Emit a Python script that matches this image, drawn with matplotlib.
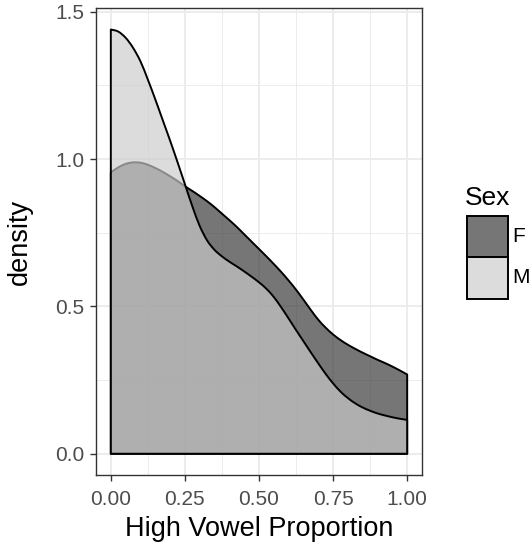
import numpy as np
import matplotlib
matplotlib.use("Agg")
import matplotlib.pyplot as plt
from matplotlib.patches import PathPatch, Rectangle
from matplotlib.path import Path

plt.rcParams['font.family'] = ['Liberation Sans', 'DejaVu Sans']

# ---- data ----
x_grid = [0.000, 0.025, 0.050, 0.075, 0.100, 0.125, 0.150, 0.175, 0.200, 0.225,
          0.250, 0.275, 0.300, 0.325, 0.350, 0.375, 0.400, 0.425, 0.450, 0.475,
          0.500, 0.525, 0.550, 0.575, 0.600, 0.625, 0.650, 0.675, 0.700, 0.725,
          0.750, 0.775, 0.800, 0.825, 0.850, 0.875, 0.900, 0.925, 0.950, 0.975, 1.000]

density_F = [0.955, 0.972, 0.984, 0.989, 0.988, 0.981, 0.970, 0.957, 0.942, 0.926,
             0.908, 0.892, 0.875, 0.857, 0.837, 0.815, 0.793, 0.770, 0.745, 0.720,
             0.695, 0.670, 0.644, 0.617, 0.588, 0.557, 0.523, 0.488, 0.455, 0.428,
             0.405, 0.386, 0.370, 0.356, 0.343, 0.331, 0.319, 0.308, 0.296, 0.283, 0.269]

density_M = [1.440, 1.433, 1.412, 1.378, 1.332, 1.270, 1.203, 1.133, 1.063, 0.990,
             0.915, 0.840, 0.773, 0.724, 0.692, 0.670, 0.652, 0.636, 0.619, 0.601,
             0.582, 0.560, 0.532, 0.497, 0.459, 0.420, 0.382, 0.344, 0.307, 0.271,
             0.239, 0.211, 0.189, 0.171, 0.157, 0.146, 0.137, 0.130, 0.124, 0.119, 0.115]

groups = ['F', 'M']
group_colors = {'F': '#333333', 'M': '#CCCCCC'}
fill_alpha = 0.67

x_ticks = [0.0, 0.25, 0.5, 0.75, 1.0]
x_ticklabels = ['0.00', '0.25', '0.50', '0.75', '1.00']
y_ticks = [0.0, 0.5, 1.0, 1.5]
y_ticklabels = ['0.0', '0.5', '1.0', '1.5']


def smooth_area_path(xs, ys):
    """Closed area path; the top edge passes through the data points as
    Bezier segments (Catmull-Rom tangents), drawn by matplotlib's Path."""
    P = np.column_stack([xs, ys]).astype(float)
    n = len(P)
    verts = [(P[0, 0], 0.0), tuple(P[0])]
    codes = [Path.MOVETO, Path.LINETO]
    for i in range(n - 1):
        p0 = P[i - 1] if i > 0 else P[i]
        p1, p2 = P[i], P[i + 1]
        p3 = P[i + 2] if i + 2 < n else P[i + 1]
        c1 = p1 + (p2 - p0) / 6.0
        c2 = p2 - (p3 - p1) / 6.0
        verts += [tuple(c1), tuple(c2), tuple(p2)]
        codes += [Path.CURVE4] * 3
    verts += [(P[-1, 0], 0.0), (P[0, 0], 0.0)]
    codes += [Path.LINETO, Path.CLOSEPOLY]
    return Path(verts, codes)


# ---- figure ----
W, H = 532, 548
fig = plt.figure(figsize=(W / 100, H / 100), dpi=100)
ax = fig.add_axes([96 / W, (H - 475) / H, (422 - 96) / W, (475 - 8.3) / H])

series = {'F': density_F, 'M': density_M}
for g in groups:
    r, gg, b = matplotlib.colors.to_rgb(group_colors[g])
    patch = PathPatch(smooth_area_path(x_grid, series[g]),
                      facecolor=(r, gg, b, fill_alpha), edgecolor='black',
                      linewidth=1.4, joinstyle='round', zorder=2)
    ax.add_patch(patch)

ax.set_xlim(-0.05, 1.05)
ax.set_ylim(-0.072, 1.512)

ax.set_xticks(x_ticks)
ax.set_xticklabels(x_ticklabels)
ax.set_yticks(y_ticks)
ax.set_yticklabels(y_ticklabels)
ax.set_xticks([0.125, 0.375, 0.625, 0.875], minor=True)
ax.set_yticks([0.25, 0.75, 1.25], minor=True)

ax.grid(which='major', color='#EBEBEB', linewidth=1.3, zorder=0)
ax.grid(which='minor', color='#EBEBEB', linewidth=0.65, zorder=0)
ax.set_axisbelow(True)

ax.tick_params(which='major', length=4.3, width=1.0, color='#333333',
               labelsize=15, labelcolor='#4D4D4D')
ax.tick_params(axis='x', which='major', pad=6.5)
ax.tick_params(axis='y', which='major', pad=4.0)
ax.tick_params(which='minor', length=0)
for s in ax.spines.values():
    s.set_color('#333333')
    s.set_linewidth(1.0)

ax.set_xlabel('High Vowel Proportion', fontsize=19.5, color='black')
ax.xaxis.set_label_coords(259 / W, 1 - 536.5 / H, transform=fig.transFigure)
ax.xaxis.label.set_verticalalignment('baseline')
ax.set_ylabel('density', fontsize=19.5, color='black')
ax.yaxis.set_label_coords(20 / W, 1 - 241.5 / H, transform=fig.transFigure)
ax.yaxis.label.set_verticalalignment('center')

# ---- legend (drawn manually, ggplot style) ----
fig.text(465 / W, 1 - 205 / H, 'Sex', fontsize=19, ha='left', va='baseline')
key_x, key_w, key_h = 467, 40.5, 41.5
key_top = 215.7
for i, g in enumerate(groups):
    top = key_top + i * key_h
    r, gg, b = matplotlib.colors.to_rgb(group_colors[g])
    rect = Rectangle((key_x / W, 1 - (top + key_h) / H), key_w / W, key_h / H,
                     transform=fig.transFigure, facecolor=(r, gg, b, fill_alpha),
                     edgecolor='black', linewidth=1.4)
    fig.add_artist(rect)
    fig.text((key_x + key_w + 5) / W, 1 - (top + key_h / 2) / H, g,
             fontsize=15, color='black', ha='left', va='center')

fig.savefig('out.png', dpi=100)
